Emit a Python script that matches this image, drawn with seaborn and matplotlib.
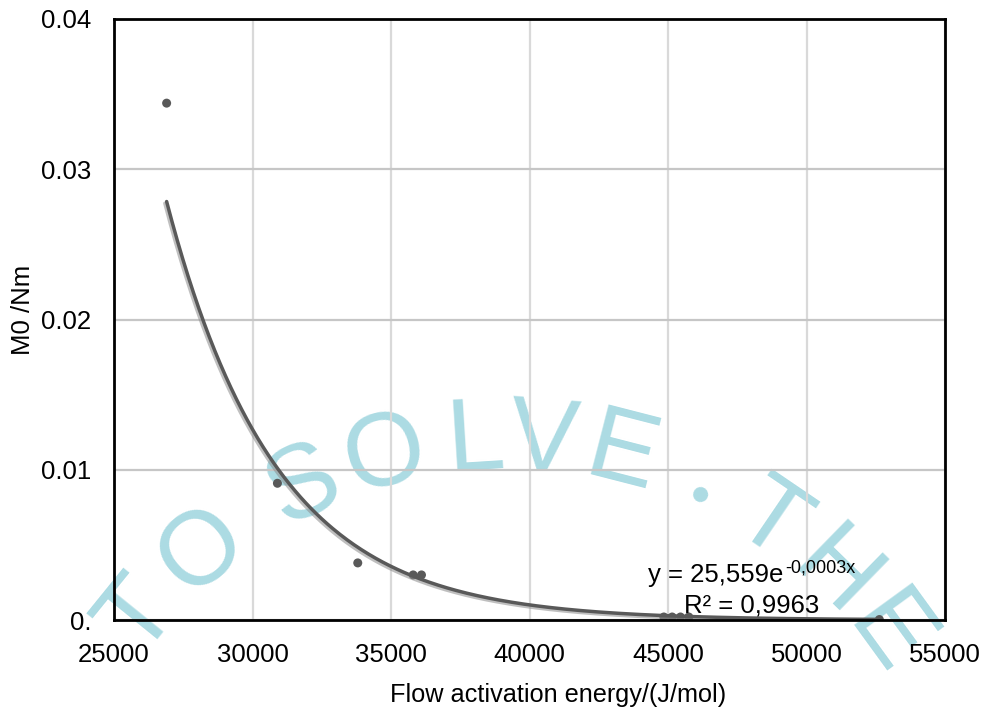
import numpy as np
import pandas as pd
import matplotlib
matplotlib.use("Agg")
import matplotlib.pyplot as plt
import matplotlib.patheffects as pe
import seaborn as sns

# Measured torque intercept M0 against flow activation energy
energy = [26900, 30900, 33800, 35800, 36100, 44850, 45150, 45450, 45750, 52630]
m0 = [0.0344, 0.0091, 0.0038, 0.0030, 0.0030, 0.0002, 0.0002, 0.0002, 0.0002, 0.00003]

# Exponential trend line y = A * exp(B * x)
fit_a = 25.559
fit_b = -0.0002536
fit_r2 = 0.9963

x_ticks = [25000, 30000, 35000, 40000, 45000, 50000, 55000]
y_ticks = [0.0, 0.01, 0.02, 0.03, 0.04]
y_tick_labels = ["0.", "0.01", "0.02", "0.03", "0.04"]

eq_text = "y = 25,559e"
eq_exp_text = "-0,0003x"
r2_text = "R² = 0,9963"
x_title = "Flow activation energy/(J/mol)"
y_title = "M0 /Nm"

# Background stamp: letters, angles on the arc (degrees), radius and size
stamp_letters = ["T", "O", "S", "O", "L", "V", "E", "•", "T", "H", "E"]
stamp_angles = [141.0, 130.0, 115.3, 104.7, 93.6, 85.3, 75.6, 65.0, 55.8, 45.7, 36.0]
stamp_radius = [482, 482, 482, 482, 482, 482, 482, 462, 482, 482, 482]
stamp_size = [75, 75, 75, 75, 75, 75, 75, 40, 75, 75, 75]

sns.set_theme(style="white")
plt.rcParams["font.family"] = ["Liberation Sans", "DejaVu Sans"]

W, H = 986, 713
fig = plt.figure(figsize=(W / 100, H / 100), dpi=100)
fig.patch.set_facecolor("white")
ax = fig.add_axes([114 / W, (H - 620) / H, (945 - 114) / W, (620 - 19) / H])
ax.set_facecolor("none")

# stamp text along a circular arc, drawn beneath the axes
cx, cy = 505.0, 913.0
for ch, ang, rad, fs in zip(stamp_letters, stamp_angles, stamp_radius, stamp_size):
    t = np.deg2rad(ang)
    px = cx + rad * np.cos(t)
    py = cy - rad * np.sin(t)
    fig.text(px / W, 1 - py / H, ch, fontsize=fs, color="#acdbe3",
             ha="center", va="center_baseline", rotation=ang - 90,
             rotation_mode="anchor", zorder=-1)

df_pts = pd.DataFrame({"energy": energy, "m0": m0})
sns.scatterplot(data=df_pts, x="energy", y="m0", ax=ax, color="#595959",
                s=42, edgecolor="none", linewidth=0, zorder=3)

x_fit = np.linspace(min(energy), max(energy), 400)
df_fit = pd.DataFrame({"energy": x_fit, "m0": fit_a * np.exp(fit_b * x_fit)})
sns.lineplot(data=df_fit, x="energy", y="m0", ax=ax, color="#595959",
             linewidth=2.5, estimator=None, sort=False, zorder=4,
             path_effects=[pe.SimpleLineShadow(offset=(-1.3, -1.3),
                                               shadow_color="#8c8c8c", alpha=0.55),
                           pe.Normal()])

ax.set_xlim(25000, 55000)
ax.set_ylim(0, 0.04)
ax.set_xticks(x_ticks)
ax.set_xticklabels([str(v) for v in x_ticks])
ax.set_yticks(y_ticks)
ax.set_yticklabels(y_tick_labels)
ax.tick_params(axis="both", length=0, labelsize=18.5, pad=16.5, colors="black")

ax.set_axisbelow(True)
ax.xaxis.grid(True, color="#d9d9d9", linewidth=1.6)
ax.yaxis.grid(True, color="#c6c6c6", linewidth=1.6)

for sp in ax.spines.values():
    sp.set_visible(True)
    sp.set_color("black")
    sp.set_linewidth(2.0)
    sp.set_zorder(5)

ax.set_xlabel(x_title, fontsize=18.2, color="black")
ax.xaxis.label.set_va("center")
ax.xaxis.set_label_coords(0.534, -0.125)
ax.set_ylabel(y_title, fontsize=18.5, color="black")
ax.yaxis.label.set_va("center")
ax.yaxis.set_label_coords(-0.11, 0.516)

eq = ax.text(0.6426, 0.0632, eq_text, transform=ax.transAxes, fontsize=18.5,
             ha="left", va="baseline", color="black", zorder=6)
ax.annotate(eq_exp_text, xy=(1.0, 0.62), xycoords=eq, xytext=(1, 0),
            textcoords="offset points", fontsize=13, ha="left", va="baseline",
            color="black", zorder=6)
ax.text(0.7677, 0.0133, r2_text, transform=ax.transAxes, fontsize=18.5,
        ha="center", va="baseline", color="black", zorder=6)

fig.savefig("out.png", dpi=100, facecolor="white")
